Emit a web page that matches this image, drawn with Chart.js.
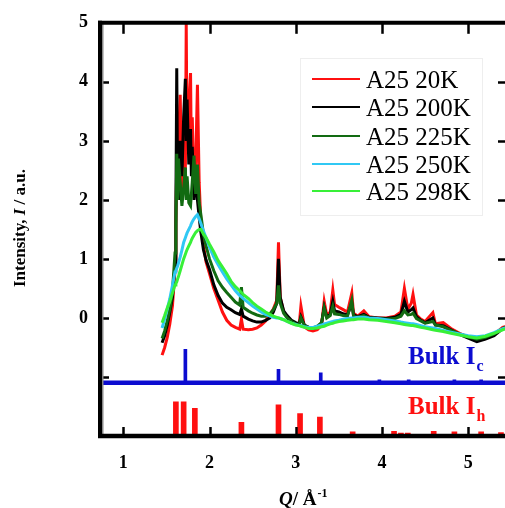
<!DOCTYPE html>
<html>
<head>
<meta charset="utf-8">
<script src="https://cdn.jsdelivr.net/npm/chart.js@4.4.1/dist/chart.umd.min.js"></script>
<style>
  html, body { margin: 0; padding: 0; overflow: hidden; background: #fff; }
  #chart { display: block; }
</style>
</head>
<body>
<canvas id="chart" width="512" height="508"></canvas>
<script>
// Q grid shared by the five measured curves (1/A)
const qGrid = [
  1.45, 1.48, 1.51, 1.54, 1.57, 1.60,
  1.61, 1.62, 1.63, 1.64, 1.66, 1.68, 1.70, 1.72, 1.73, 1.74, 1.76, 1.78, 1.79, 1.80, 1.82, 1.84, 1.86, 1.88, 1.90,
  1.93, 1.96, 2.00, 2.05, 2.10, 2.15, 2.20, 2.25, 2.30, 2.35,
  2.37, 2.39, 2.45, 2.50, 2.55, 2.60, 2.65, 2.70, 2.74, 2.78,
  2.80, 2.82, 2.86, 2.90, 2.95, 3.00, 3.04, 3.06, 3.10, 3.15,
  3.20, 3.25, 3.30, 3.33, 3.36, 3.40, 3.43, 3.45, 3.50, 3.55,
  3.60, 3.65, 3.67, 3.72, 3.79, 3.85, 3.95, 4.05, 4.15, 4.22,
  4.26, 4.30, 4.34, 4.36, 4.40, 4.45, 4.50, 4.59, 4.62, 4.71,
  4.80, 4.90, 5.00, 5.10, 5.20, 5.30, 5.40, 5.45
];

const a25_20K = [
  -0.63, -0.50, -0.33, -0.10, 0.20, 0.80,
  1.6, 2.6, 2.0, 3.0, 3.78, 2.2, 3.2, 2.4, 4.98, 2.8, 3.6, 4.15, 2.6, 3.4, 2.2, 2.6, 3.95, 2.3, 1.6,
  1.23, 0.95, 0.75, 0.50, 0.30, 0.10, -0.04, -0.12, -0.16, -0.19,
  -0.02, -0.19, -0.20, -0.19, -0.17, -0.12, -0.05, 0.05, 0.15, 0.30,
  1.28, 0.35, 0.10, 0.02, -0.06, -0.10, -0.12, 0.20, -0.15, -0.20,
  -0.22, -0.20, -0.12, 0.28, 0.05, 0.10, 0.47, 0.23, 0.18, 0.14,
  0.10, 0.42, 0.08, 0.03, 0.12, 0.02, 0.00, 0.00, 0.03, 0.10,
  0.50, 0.15, 0.25, 0.40, 0.05, -0.02, -0.06, 0.09, -0.10, -0.08,
  -0.18, -0.26, -0.32, -0.38, -0.35, -0.28, -0.16, -0.14
];

const a25_200K = [
  -0.42, -0.30, -0.12, 0.10, 0.35, 0.90,
  1.8, 4.23, 2.2, 2.0, 3.0, 2.4, 3.4, 4.05, 3.0, 3.7, 2.6, 3.2, 2.4, 2.9, 2.0, 2.4, 2.0, 1.7, 1.45,
  1.15, 0.98, 0.82, 0.56, 0.38, 0.25, 0.18, 0.14, 0.09, 0.06,
  0.15, 0.03, -0.02, -0.05, -0.07, -0.07, -0.04, 0.00, 0.10, 0.25,
  1.00, 0.35, 0.12, 0.04, -0.04, -0.08, -0.10, 0.02, -0.12, -0.16,
  -0.18, -0.16, -0.08, 0.18, 0.02, 0.06, 0.28, 0.12, 0.10, 0.07,
  0.05, 0.25, 0.05, 0.02, 0.06, 0.01, 0.00, -0.01, 0.01, 0.06,
  0.28, 0.10, 0.14, 0.17, 0.02, -0.04, -0.08, 0.00, -0.12, -0.13,
  -0.20, -0.28, -0.34, -0.40, -0.36, -0.30, -0.18, -0.15
];

const a25_225K = [
  -0.35, -0.22, -0.05, 0.15, 0.45, 1.10,
  1.5, 2.78, 2.0, 2.7, 2.3, 1.9, 2.2, 2.55, 2.0, 2.4, 1.95, 1.9, 2.1, 2.3, 2.75, 2.1, 2.6, 1.95, 1.75,
  1.42, 1.22, 1.00, 0.80, 0.63, 0.52, 0.43, 0.35, 0.27, 0.22,
  0.52, 0.18, 0.12, 0.08, 0.05, 0.03, 0.03, 0.07, 0.14, 0.25,
  0.55, 0.25, 0.08, 0.00, -0.06, -0.10, -0.12, 0.00, -0.13, -0.16,
  -0.17, -0.14, -0.08, 0.17, 0.00, 0.04, 0.20, 0.07, 0.06, 0.04,
  0.03, 0.30, 0.03, 0.01, 0.04, 0.00, -0.01, -0.02, -0.01, 0.03,
  0.12, 0.05, 0.06, 0.08, -0.01, -0.05, -0.09, -0.06, -0.12, -0.15,
  -0.21, -0.27, -0.32, -0.36, -0.33, -0.27, -0.18, -0.15
];

const a25_250K = [
  -0.17, -0.02, 0.15, 0.33, 0.55, 0.78,
  0.80, 0.84, 0.88, 0.93, 1.03, 1.15, 1.28, 1.36, 1.40, 1.44, 1.50, 1.56, 1.60, 1.63, 1.68, 1.72, 1.75, 1.68, 1.60,
  1.47, 1.36, 1.20, 1.03, 0.90, 0.78, 0.66, 0.56, 0.46, 0.38,
  0.36, 0.33, 0.26, 0.20, 0.15, 0.10, 0.06, 0.03, 0.01, 0.00,
  0.00, -0.01, -0.03, -0.06, -0.09, -0.11, -0.13, -0.13, -0.15, -0.16,
  -0.16, -0.14, -0.12, -0.10, -0.09, -0.07, -0.06, -0.05, -0.04, -0.02,
  -0.01, 0.00, 0.00, 0.01, 0.01, 0.00, -0.01, -0.03, -0.05, -0.07,
  -0.08, -0.09, -0.10, -0.10, -0.11, -0.13, -0.15, -0.17, -0.18, -0.21,
  -0.24, -0.27, -0.30, -0.32, -0.30, -0.25, -0.18, -0.16
];

const a25_298K = [
  -0.08, 0.04, 0.17, 0.28, 0.42, 0.56,
  0.58, 0.61, 0.66, 0.70, 0.80, 0.90, 1.00, 1.08, 1.12, 1.16, 1.22, 1.28, 1.32, 1.35, 1.40, 1.45, 1.48, 1.50, 1.50,
  1.42, 1.36, 1.25, 1.12, 0.97, 0.86, 0.75, 0.62, 0.53, 0.46,
  0.43, 0.40, 0.33, 0.26, 0.20, 0.15, 0.10, 0.06, 0.03, 0.01,
  0.00, -0.01, -0.03, -0.06, -0.09, -0.12, -0.13, -0.14, -0.16, -0.18,
  -0.18, -0.17, -0.15, -0.14, -0.12, -0.10, -0.09, -0.08, -0.06, -0.05,
  -0.04, -0.03, -0.03, -0.02, -0.02, -0.03, -0.04, -0.06, -0.08, -0.10,
  -0.11, -0.12, -0.13, -0.13, -0.14, -0.16, -0.17, -0.20, -0.21, -0.23,
  -0.26, -0.29, -0.32, -0.34, -0.31, -0.26, -0.20, -0.18
];

const seriesNames = ['A25 20K', 'A25 200K', 'A25 225K', 'A25 250K', 'A25 298K'];
const seriesColors = ['#ff1010', '#000000', '#126b12', '#30c8f4', '#38f038'];
const seriesValues = [a25_20K, a25_200K, a25_225K, a25_250K, a25_298K];

// bulk reference peaks
const bulkIcBase = -1.1;
const bulkIcQ = [1.72, 2.80, 3.29, 3.97, 4.31, 4.84, 5.15];
const bulkIcTop = [-0.53, -0.87, -0.93, -1.05, -1.05, -1.05, -1.05];
const bulkIhBase = -2;
const bulkIhQ = [1.61, 1.70, 1.83, 2.37, 2.80, 3.05, 3.28, 3.66, 4.14, 4.22, 4.30, 4.60, 4.84, 5.15, 5.38];
const bulkIhTop = [-1.42, -1.42, -1.53, -1.77, -1.47, -1.62, -1.68, -1.93, -1.92, -1.95, -1.95, -1.92, -1.93, -1.93, -1.94];

const xTicks = [1, 2, 3, 4, 5];
const yTickLabels = [0, 1, 2, 3, 4, 5];
const yTickMarks = [4, 3, 2, 1, 0, -1];

const SERIF = '"Liberation Serif", "Times New Roman", serif';

const lineSets = seriesValues.map((vals, i) => ({
  type: 'line',
  label: seriesNames[i],
  data: qGrid.map((q, j) => ({x: q, y: vals[j]})),
  borderColor: seriesColors[i],
  borderWidth: 3,
  pointRadius: 0,
  tension: 0,
  order: 10 - i
}));

const icLine = {
  type: 'line',
  label: 'Ic base',
  data: [{x: 0.73, y: bulkIcBase}, {x: 5.45, y: bulkIcBase}],
  borderColor: '#0c0cd0',
  borderWidth: 4.5,
  pointRadius: 0,
  order: 20
};

const icBars = {
  type: 'bar',
  label: 'Bulk Ic',
  data: bulkIcQ.map((q, i) => ({x: q, y: [bulkIcBase, bulkIcTop[i]]})),
  backgroundColor: '#0c0cd0',
  barThickness: 3,
  grouped: false,
  order: 21
};

const ihBars = {
  type: 'bar',
  label: 'Bulk Ih',
  data: bulkIhQ.map((q, i) => ({x: q, y: [bulkIhBase, bulkIhTop[i]]})),
  backgroundColor: '#ff1010',
  barThickness: 5,
  grouped: false,
  order: 22
};

const line = (ctx, x1, y1, x2, y2) => {
  ctx.beginPath();
  ctx.moveTo(x1, y1);
  ctx.lineTo(x2, y2);
  ctx.stroke();
};

// frame, inward ticks, legend, titles and bulk labels
const decorPlugin = {
  id: 'decor',
  afterDraw(chart) {
    const {ctx, chartArea: a, scales: {x, y}} = chart;
    ctx.save();
    ctx.strokeStyle = '#000';
    ctx.lineWidth = 2.5;
    yTickMarks.forEach(v => {
      const py = Math.round(y.getPixelForValue(v)) + 0.5;
      line(ctx, a.left, py, a.left + 9, py);
      line(ctx, a.right, py, a.right - 9, py);
    });
    xTicks.forEach(v => {
      const px = Math.round(x.getPixelForValue(v)) + 0.5;
      line(ctx, px, a.bottom, px, a.bottom - 9);
      line(ctx, px, a.top, px, a.top + 11);
    });

    // frame
    ctx.strokeStyle = '#888';
    ctx.lineWidth = 2;
    line(ctx, a.left + 2.5, a.top, a.left + 2.5, a.bottom);
    ctx.strokeStyle = '#000';
    ctx.lineWidth = 4;
    line(ctx, a.left, a.top - 2, a.left, a.bottom + 2);
    line(ctx, a.left - 2, a.top, a.right + 2, a.top);
    line(ctx, a.right, a.top, a.right, a.bottom);
    ctx.lineWidth = 4.5;
    line(ctx, a.left - 2, a.bottom, a.right + 2, a.bottom);

    // legend
    ctx.strokeStyle = '#eeeeee';
    ctx.lineWidth = 1;
    ctx.strokeRect(300.5, 58.5, 182, 157);
    const rowY = [79, 107, 136, 164, 191];
    ctx.font = '25px ' + SERIF;
    ctx.textBaseline = 'middle';
    ctx.textAlign = 'left';
    ctx.fillStyle = '#000';
    seriesNames.forEach((name, i) => {
      ctx.strokeStyle = seriesColors[i];
      ctx.lineWidth = 2;
      line(ctx, 312, rowY[i], 360, rowY[i]);
      ctx.fillText(name, 366, rowY[i] + 2);
    });

    // bulk labels
    ctx.textBaseline = 'alphabetic';
    const bulkLabel = (color, sub, yBase) => {
      ctx.fillStyle = color;
      ctx.font = 'bold 25px ' + SERIF;
      ctx.fillText('Bulk I', 408, yBase);
      const w = ctx.measureText('Bulk I').width;
      ctx.font = 'bold 16px ' + SERIF;
      ctx.fillText(sub, 408 + w + 1, yBase + 7);
    };
    bulkLabel('#0c0cd0', 'c', 364);
    bulkLabel('#ff1010', 'h', 414);

    // y title
    ctx.save();
    ctx.translate(21, 228);
    ctx.rotate(-Math.PI / 2);
    ctx.fillStyle = '#000';
    ctx.textBaseline = 'middle';
    const parts = [
      ['Intensity, ', 'bold 17px ' + SERIF],
      ['I', 'italic bold 17px ' + SERIF],
      [' / a.u.', 'bold 17px ' + SERIF]
    ];
    let total = 0;
    parts.forEach(p => { ctx.font = p[1]; total += ctx.measureText(p[0]).width; });
    let cx = -total / 2;
    parts.forEach(p => {
      ctx.font = p[1];
      ctx.fillText(p[0], cx, 0);
      cx += ctx.measureText(p[0]).width;
    });
    ctx.restore();

    // x title
    ctx.fillStyle = '#000';
    ctx.textBaseline = 'alphabetic';
    let tx = 279;
    ctx.font = 'italic bold 19px ' + SERIF;
    ctx.fillText('Q', tx, 505);
    tx += ctx.measureText('Q').width;
    ctx.font = 'bold 19px ' + SERIF;
    ctx.fillText('/ Å', tx, 505);
    tx += ctx.measureText('/ Å').width + 1;
    ctx.font = 'bold 12px ' + SERIF;
    ctx.fillText('-1', tx, 497);
    ctx.restore();
  }
};

new Chart(document.getElementById('chart'), {
  type: 'line',
  data: {datasets: [...lineSets, icLine, icBars, ihBars]},
  options: {
    responsive: false,
    animation: false,
    layout: {padding: {top: 16, right: 5, left: 0, bottom: 0}},
    plugins: {legend: {display: false}, tooltip: {enabled: false}},
    scales: {
      x: {
        type: 'linear',
        min: 0.73,
        max: 5.45,
        offset: false,
        grid: {display: false, drawTicks: false},
        border: {display: false},
        afterBuildTicks: s => { s.ticks = xTicks.map(v => ({value: v})); },
        afterFit: s => { s.height = 72; },
        ticks: {
          padding: 17,
          color: '#000',
          font: {family: SERIF, size: 18, weight: 'bold'},
          callback: v => String(v)
        }
      },
      y: {
        type: 'linear',
        min: -2,
        max: 5,
        grid: {display: false, drawTicks: false},
        border: {display: false},
        afterBuildTicks: s => { s.ticks = yTickLabels.map(v => ({value: v})); },
        afterFit: s => { s.width = 100; },
        ticks: {
          padding: 12,
          color: '#000',
          font: {family: SERIF, size: 18, weight: 'bold'},
          callback: v => String(v)
        }
      }
    }
  },
  plugins: [decorPlugin]
});
</script>
</body>
</html>
